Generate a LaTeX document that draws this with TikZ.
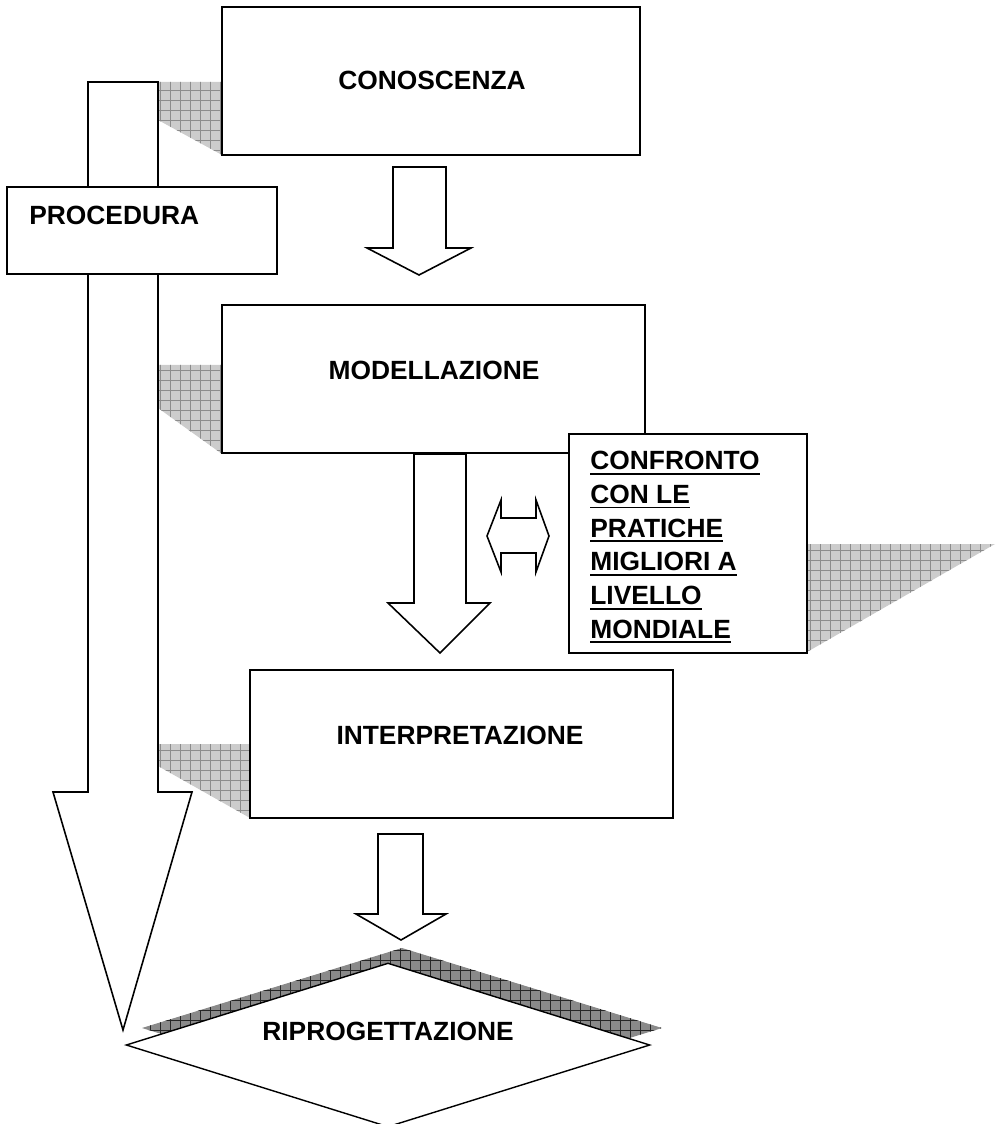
\documentclass[tikz,border=0pt]{standalone}
\usepackage{fontspec}
\setmainfont{Liberation Sans}
\usetikzlibrary{shapes.geometric}

% thick underline
\newcommand{\ulbold}[1]{\leavevmode\vtop{\hbox{#1}\kern1.6pt\hrule height 1.1pt}}

% hatched shadow: fill colour, grid colour, path
\newcommand{\shadowpoly}[3]{%
  \fill[#1] #3;
  \begin{scope}
    \clip #3;
    \draw[#2,line width=0.3pt,step=0.2cm] (0,1124) grid (1003,0);
  \end{scope}}

\begin{document}
\begin{tikzpicture}[x=0.02cm,y=-0.02cm]
            \tikzstyle{box}=[draw,rectangle,fill=white,line width=0.8pt,inner sep=0pt]
            \tikzstyle{boxtext}=[inner sep=0pt,font=\bfseries\fontsize{15}{19.2}\selectfont]
            \tikzstyle{blockarrow}=[draw,fill=white,line width=0.9pt,line join=miter]

            \useasboundingbox (0,0) rectangle (1003,1124);

            % shadows
            \shadowpoly{gray!40}{gray!90}{(158,82) -- (222,82) -- (222,155) -- (158,120) -- cycle}
            \shadowpoly{gray!40}{gray!90}{(158,365) -- (222,365) -- (222,454) -- (158,408) -- cycle}
            \shadowpoly{gray!40}{gray!90}{(158,744) -- (250,744) -- (250,818) -- (158,766) -- cycle}
            \shadowpoly{gray!40}{gray!90}{(807,544) -- (995,544) -- (807,652) -- cycle}
            \shadowpoly{black!46}{black!85}{(402,948) -- (662,1028) -- (402,1108) -- (142,1028) -- cycle}

            % procedure arrow
            \draw[blockarrow] (88,82) -- (158,82) -- (158,792) -- (192,792) -- (123,1030)
              -- (53,792) -- (88,792) -- cycle;

            \node (cono) at (431,81) [box,minimum width=8.36cm,minimum height=2.96cm] {};
            \node (modl) at (433.5,379) [box,minimum width=8.46cm,minimum height=2.96cm] {};
            \node (interp) at (461.5,744) [box,minimum width=8.46cm,minimum height=2.96cm] {};
            \node (proc) at (142,230.5) [box,minimum width=5.4cm,minimum height=1.74cm] {};
            \node (conf) at (688,543.5) [box,minimum width=4.76cm,minimum height=4.38cm] {};
            \node (ripro) at (388,1045) [box,diamond,minimum width=10.48cm,minimum height=3.28cm] {};

            \node (conoT) at (432,80) [boxtext] {CONOSCENZA};
            \node (modlT) at (434,370) [boxtext] {MODELLAZIONE};
            \node (interpT) at (460,735) [boxtext] {INTERPRETAZIONE};
            \node (procT) at (29,215) [boxtext,anchor=west] {PROCEDURA};
            \node (riproT) at (388,1031) [boxtext] {RIPROGETTAZIONE};
            \node (confT) at (590,451) [boxtext,anchor=north west,align=left]
              {\ulbold{CONFRONTO}\\ \ulbold{CON LE}\\ \ulbold{PRATICHE}\\ \ulbold{MIGLIORI A}\\ \ulbold{LIVELLO}\\ \ulbold{MONDIALE}};

            % block arrows
            \draw[blockarrow] (393,167) -- (446,167) -- (446,248) -- (471,248) -- (419,275)
              -- (367,248) -- (393,248) -- cycle;
            \draw[blockarrow] (414,454) -- (466,454) -- (466,603) -- (490,603) -- (440,653)
              -- (388,603) -- (414,603) -- cycle;
            \draw[blockarrow] (378,834) -- (423,834) -- (423,914) -- (446,914) -- (401,940)
              -- (356,914) -- (378,914) -- cycle;
            \draw[blockarrow] (487,536) -- (501,500) -- (501,518) -- (536,518) -- (536,500)
              -- (549,536) -- (536,572) -- (536,553) -- (501,553) -- (501,572) -- cycle;
          \end{tikzpicture}
\end{document}
